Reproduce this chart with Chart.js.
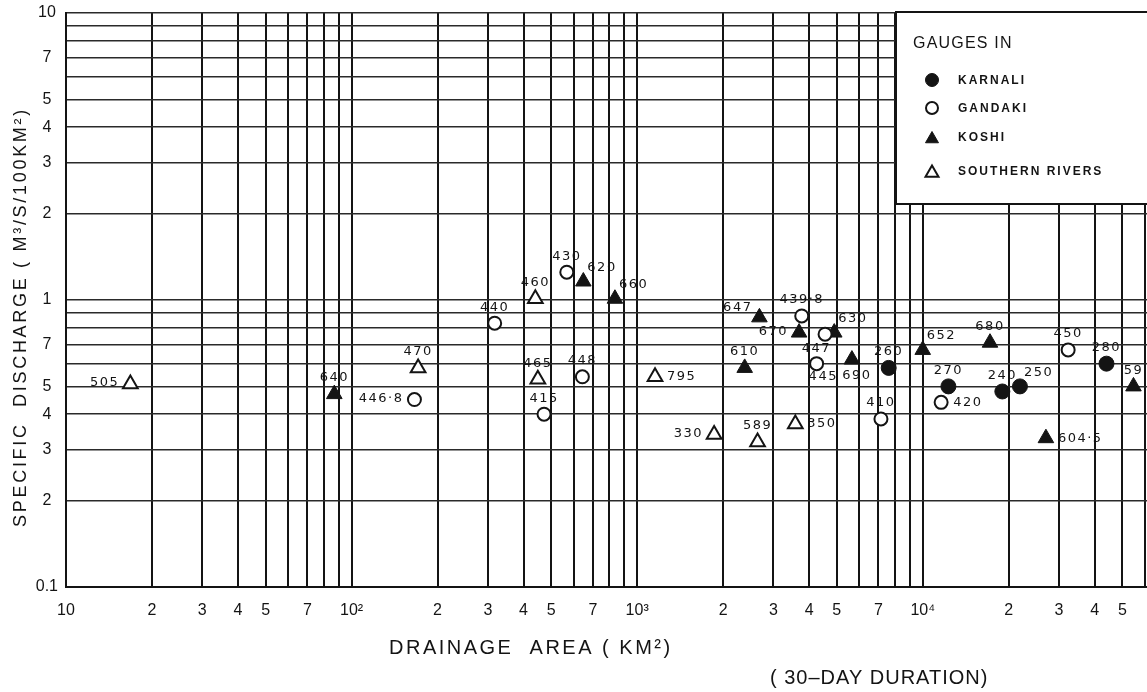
<!DOCTYPE html>
<html>
<head>
<meta charset="utf-8">
<title>Specific discharge against drainage area</title>
<script src="https://cdn.jsdelivr.net/npm/chart.js@4.4.1/dist/chart.umd.min.js"></script>
<style>
    html, body { margin: 0; padding: 0; background: #fff; overflow: hidden; }
    /* the sheet runs past the right edge of the window, like a cropped scan */
    #wrap { position: relative; width: 1167px; height: 692px; }
</style>
</head>
<body>
<div id="wrap"><canvas id="dischargeChart"></canvas></div>
<script>
// ---------------------------------------------------------
// Gauge data: drainage area (km2), specific discharge (m3/s/100km2), station no.
// ---------------------------------------------------------
const karnaliArea = [7600, 12300, 19000, 21900, 44000];
const karnaliDischarge = [0.58, 0.50, 0.48, 0.50, 0.60];
const karnaliStation = ['260', '270', '240', '250', '280'];

const gandakiArea = [166, 317, 472, 567, 643, 3770, 4550, 4250, 7140, 11600, 32300];
const gandakiDischarge = [0.45, 0.83, 0.40, 1.25, 0.54, 0.88, 0.76, 0.60, 0.385, 0.44, 0.67];
const gandakiStation = ['446·8', '440', '415', '430', '448', '439·8', '447', '445', '410', '420', '450'];

const koshiArea = [87, 648, 836, 2680, 2380, 3690, 4900, 5650, 10000, 17200, 27000, 54700];
const koshiDischarge = [0.47, 1.16, 1.01, 0.87, 0.58, 0.77, 0.77, 0.62, 0.67, 0.71, 0.33, 0.50];
const koshiStation = ['640', '620', '660', '647', '610', '670', '630', '690', '652', '680', '604·5', '59'];

const southernArea = [16.8, 171, 440, 449, 1155, 1860, 2640, 3580];
const southernDischarge = [0.51, 0.58, 1.01, 0.53, 0.54, 0.34, 0.32, 0.37];
const southernStation = ['505', '470', '460', '465', '795', '330', '589', '350'];

// axis ticks (log paper: lines at every 1..9, labels only on some)
const xTickValues = [10, 20, 30, 40, 50, 70, 100, 200, 300, 400, 500, 700,
    1000, 2000, 3000, 4000, 5000, 7000, 10000, 20000, 30000, 40000, 50000];
const xTickText = ['10', '2', '3', '4', '5', '7', '10²', '2', '3', '4', '5', '7',
    '10³', '2', '3', '4', '5', '7', '10⁴', '2', '3', '4', '5'];
const yGridValues = [0.1, 0.2, 0.3, 0.4, 0.5, 0.6, 0.7, 0.8, 0.9, 1, 2, 3, 4, 5, 6, 7, 8, 9, 10];
const yTickValues = [0.1, 0.2, 0.3, 0.4, 0.5, 0.7, 1, 2, 3, 4, 5, 7, 10];
const yTickText = ['0.1', '2', '3', '4', '5', '7', '1', '2', '3', '4', '5', '7', '10'];

// where each station number sits relative to its marker
const karnaliLabelAt = ['top', 'top', 'top', 'topRight', 'top'];
const gandakiLabelAt = ['left', 'top', 'top', 'top', 'top', 'top', 'bottomLeft', 'bottomRight', 'top', 'right', 'top'];
const koshiLabelAt = ['top', 'topRight', 'topRight', 'topLeft', 'top', 'left', 'topRight', 'bottom', 'topRight', 'top', 'right', 'top'];
const southernLabelAt = ['left', 'top', 'top', 'top', 'right', 'left', 'top', 'right'];

const X_MIN = 10, X_MAX = 61000;
const INK = '#141414';

// vertical grid at every 1..9 x 10^n up to the edge of the sheet
const xGridValues = [];
[10, 100, 1000, 10000].forEach(function (dec) {
    for (let m = 1; m <= 9; m++) {
        if (m * dec <= X_MAX) xGridValues.push(m * dec);
    }
});

function points(xs, ys) {
    return xs.map(function (x, i) { return { x: x, y: ys[i] }; });
}

const datasets = [
    {
        label: 'KARNALI', data: points(karnaliArea, karnaliDischarge),
        stations: karnaliStation, labelAt: karnaliLabelAt,
        pointStyle: 'circle', pointRadius: 7.5, backgroundColor: INK, borderColor: INK, borderWidth: 1
    },
    {
        label: 'GANDAKI', data: points(gandakiArea, gandakiDischarge),
        stations: gandakiStation, labelAt: gandakiLabelAt,
        pointStyle: 'circle', pointRadius: 6.5, backgroundColor: '#fff', borderColor: INK, borderWidth: 2
    },
    {
        label: 'KOSHI', data: points(koshiArea, koshiDischarge),
        stations: koshiStation, labelAt: koshiLabelAt,
        pointStyle: 'triangle', pointRadius: 9, backgroundColor: INK, borderColor: INK, borderWidth: 1
    },
    {
        label: 'SOUTHERN RIVERS', data: points(southernArea, southernDischarge),
        stations: southernStation, labelAt: southernLabelAt,
        pointStyle: 'triangle', pointRadius: 8.5, backgroundColor: '#fff', borderColor: INK, borderWidth: 2
    }
];

// =========================================================
// STATION NUMBERS NEXT TO MARKERS
// =========================================================
function labelSpot(code, x, y) {
    switch (code) {
        case 'topRight': return { x: x + 4, y: y - 14, align: 'left' };
        case 'topLeft': return { x: x - 7, y: y - 10, align: 'right' };
        case 'left': return { x: x - 11, y: y - 1, align: 'right' };
        case 'right': return { x: x + 12, y: y, align: 'left' };
        case 'bottomLeft': return { x: x + 6, y: y + 14, align: 'right' };
        case 'bottomRight': return { x: x - 8, y: y + 13, align: 'left' };
        case 'bottom': return { x: x + 5, y: y + 16, align: 'center' };
        default: return { x: x, y: y - 16, align: 'center' };
    }
}

const stationLabels = {
    id: 'stationLabels',
    afterDatasetsDraw(chart) {
        const ctx = chart.ctx;
        ctx.save();
        ctx.font = '13px "DejaVu Sans"';
        if ('letterSpacing' in ctx) ctx.letterSpacing = '1.5px';
        ctx.fillStyle = INK;
        ctx.textBaseline = 'middle';
        chart.data.datasets.forEach(function (ds, di) {
            chart.getDatasetMeta(di).data.forEach(function (pt, i) {
                const spot = labelSpot(ds.labelAt[i], pt.x, pt.y);
                ctx.textAlign = spot.align;
                ctx.fillText(ds.stations[i], spot.x, spot.y);
            });
        });
        ctx.restore();
    }
};

// =========================================================
// LEGEND BOX (top right, over the grid)
// =========================================================
const gaugeLegend = {
    id: 'gaugeLegend',
    afterDatasetsDraw(chart) {
        const ctx = chart.ctx;
        const area = chart.chartArea;
        const left = area.right - 251;
        const top = area.top - 1;
        ctx.save();
        ctx.fillStyle = '#fff';
        ctx.fillRect(left, top, 270, 192);
        ctx.strokeStyle = INK;
        ctx.lineWidth = 2;
        ctx.strokeRect(left, top, 270, 192);

        ctx.fillStyle = INK;
        ctx.textBaseline = 'middle';
        ctx.textAlign = 'left';
        ctx.font = '16px "Liberation Sans"';
        if ('letterSpacing' in ctx) ctx.letterSpacing = '1.2px';
        ctx.fillText('GAUGES IN', left + 17, top + 32);

        const rows = [68, 96, 125, 159];
        const sizes = [6.5, 6, 7.5, 7.5];
        ctx.font = 'bold 12px "Liberation Sans"';
        if ('letterSpacing' in ctx) ctx.letterSpacing = '2px';
        chart.data.datasets.forEach(function (ds, i) {
            const cy = top + rows[i];
            ctx.fillStyle = ds.backgroundColor;
            ctx.strokeStyle = ds.borderColor;
            ctx.lineWidth = ds.borderWidth;
            Chart.helpers.drawPoint(ctx, {
                pointStyle: ds.pointStyle, radius: sizes[i], rotation: 0, borderWidth: ds.borderWidth
            }, left + 36, cy + (ds.pointStyle === 'triangle' ? 2 : 0));
            ctx.fillStyle = INK;
            ctx.fillText(ds.label, left + 62, cy + 1);
        });
        ctx.restore();
    }
};

// =========================================================
// AXIS TITLES
// =========================================================
const axisTitles = {
    id: 'axisTitles',
    afterDraw(chart) {
        const ctx = chart.ctx;
        ctx.save();
        ctx.fillStyle = INK;
        ctx.textBaseline = 'middle';
        ctx.font = '18px "Liberation Sans"';
        if ('letterSpacing' in ctx) ctx.letterSpacing = '2.7px';

        ctx.save();
        ctx.translate(21, 317);
        ctx.rotate(-Math.PI / 2);
        ctx.textAlign = 'center';
        ctx.fillText('SPECIFIC  DISCHARGE ( M³/S/100KM²)', 0, 0);
        ctx.restore();

        ctx.textAlign = 'left';
        ctx.font = '20px "Liberation Sans"';
        if ('letterSpacing' in ctx) ctx.letterSpacing = '2.5px';
        ctx.fillText('DRAINAGE  AREA ( KM²)', 389, 648);
        if ('letterSpacing' in ctx) ctx.letterSpacing = '1px';
        ctx.fillText('( 30–DAY DURATION)', 770, 678);
        ctx.restore();
    }
};

// =========================================================
// CHART
// =========================================================
new Chart(document.getElementById('dischargeChart'), {
    type: 'scatter',
    data: { datasets: datasets },
    plugins: [stationLabels, gaugeLegend, axisTitles],
    options: {
        responsive: true,
        maintainAspectRatio: false,
        devicePixelRatio: 1,
        animation: false,
        events: [],
        // right padding is wider than any label overhang, so the plot ends at 1147px
        layout: { padding: { top: 13, right: 20, bottom: 0, left: 0 } },
        plugins: {
            legend: { display: false },
            tooltip: { enabled: false }
        },
        scales: {
            x: {
                type: 'logarithmic',
                min: X_MIN,
                max: X_MAX,
                afterBuildTicks: function (scale) {
                    scale.ticks = xGridValues.map(function (v) { return { value: v }; });
                },
                afterFit: function (scale) {
                    scale.height = 105;
                },
                ticks: {
                    autoSkip: false,
                    maxRotation: 0,
                    padding: 0,
                    color: INK,
                    // tall line box pushes the labels down without side padding
                    font: { family: 'Liberation Sans', size: 16, lineHeight: 2.9 },
                    callback: function (value) {
                        const i = xTickValues.indexOf(value);
                        return i >= 0 ? xTickText[i] : '';
                    }
                },
                grid: { color: INK, lineWidth: 2, drawTicks: false },
                border: { display: true, color: INK, width: 2 }
            },
            y: {
                type: 'logarithmic',
                min: 0.1,
                max: 10,
                afterBuildTicks: function (scale) {
                    scale.ticks = yGridValues.map(function (v) { return { value: v }; });
                },
                afterFit: function (scale) {
                    scale.width = 66;
                },
                ticks: {
                    autoSkip: false,
                    crossAlign: 'center',
                    padding: 8,
                    color: INK,
                    font: { family: 'Liberation Sans', size: 16, lineHeight: 0.6 },
                    callback: function (value) {
                        const i = yTickValues.indexOf(value);
                        return i >= 0 ? yTickText[i] : '';
                    }
                },
                grid: { color: '#2a2a2a', lineWidth: 1.5, drawTicks: false },
                border: { display: true, color: INK, width: 2 }
            }
        }
    }
});
</script>
</body>
</html>
